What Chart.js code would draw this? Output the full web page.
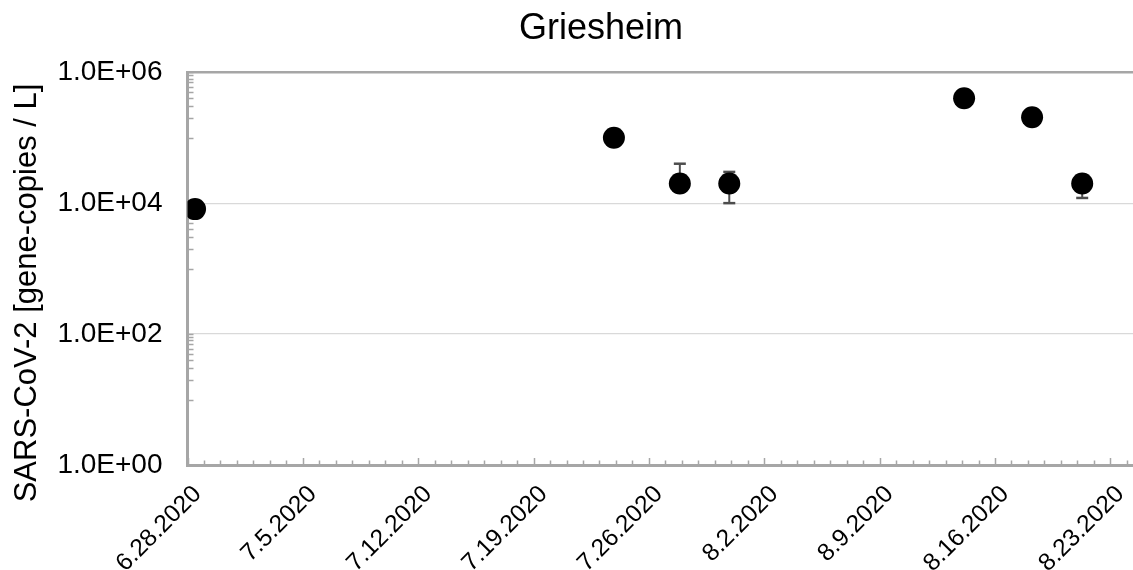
<!DOCTYPE html>
<html><head><meta charset="utf-8">
<script src="https://cdn.jsdelivr.net/npm/chart.js@4.4.1/dist/chart.umd.min.js"></script>
<style>html,body{margin:0;padding:0;overflow:hidden;background:#fff;width:1133px;height:570px}</style>
</head><body>
<canvas id="c" width="1212" height="570" style="width:1212px;height:570px;display:block"></canvas>
<script>
// ---- data ----
const sampleDates = ['2020-06-28T11:00','2020-07-23T21:00','2020-07-27T21:00','2020-07-30T21:00','2020-08-14T03:00','2020-08-18T06:00','2020-08-21T07:00'];
const copiesPerL  = [8100, 100000, 20000, 20000, 400000, 205000, 20000];
const errLow      = [null, null, null, 10000, null, null, 12000];
const errHigh     = [null, null, 40000, 30000, null, null, null];
const xTickDates  = ['2020-06-28','2020-07-05','2020-07-12','2020-07-19','2020-07-26','2020-08-02','2020-08-09','2020-08-16','2020-08-23'];
const xTickLabels = ['6.28.2020','7.5.2020','7.12.2020','7.19.2020','7.26.2020','8.2.2020','8.9.2020','8.16.2020','8.23.2020'];
const yTickValues = [1, 100, 10000, 1000000];
const yTickLabels = ['1.0E+00','1.0E+02','1.0E+04','1.0E+06'];
const axisStart = '2020-06-28';
const axisEnd   = '2020-08-28T12:00';
const chartTitle = 'Griesheim';
const yTitle = 'SARS-CoV-2 [gene-copies / L]';

const toDay = s => (Date.parse((s.length === 10 ? s + 'T00:00' : s) + 'Z') - Date.parse(axisStart + 'T00:00Z')) / 864e5;
const sampleDays = sampleDates.map(toDay);
const xTickDays = xTickDates.map(toDay);
const xMax = toDay(axisEnd);

const FONT = '"Liberation Sans", Arial, sans-serif';
const AXIS = '#a6a6a6';

const minorTicks = {
  id: 'minorTicks',
  beforeDatasetsDraw(chart) {
    const {ctx, scales: {x, y}, chartArea} = chart;
    ctx.save();
    ctx.strokeStyle = AXIS;
    ctx.lineWidth = 1.5;
    ctx.beginPath();
    for (let d = 0; d <= Math.floor(xMax); d++) {
      const px = Math.round(x.getPixelForValue(d)) + 0.5;
      const len = xTickDays.includes(d) ? 7 : 4.5;
      ctx.moveTo(px, chartArea.bottom);
      ctx.lineTo(px, chartArea.bottom - len);
    }
    const vals = [...yTickValues];
    for (const e of [1, 3, 5]) for (let k = 1; k <= 9; k++) vals.push(k * Math.pow(10, e));
    for (const v of vals) {
      const py = Math.round(y.getPixelForValue(v)) + 0.5;
      ctx.moveTo(chartArea.left, py);
      ctx.lineTo(chartArea.left + 6, py);
    }
    ctx.stroke();
    ctx.restore();
  }
};

const errorBars = {
  id: 'errorBars',
  beforeDatasetsDraw(chart) {
    const {ctx, scales: {x, y}} = chart;
    ctx.save();
    ctx.strokeStyle = '#4d4d4d';
    sampleDays.forEach((d, i) => {
      const px = x.getPixelForValue(d), py = y.getPixelForValue(copiesPerL[i]);
      [errLow[i], errHigh[i]].forEach(v => {
        if (v == null) return;
        const pe = y.getPixelForValue(v);
        ctx.lineWidth = 2;
        ctx.beginPath(); ctx.moveTo(px, py); ctx.lineTo(px, pe); ctx.stroke();
        ctx.lineWidth = 2.5;
        ctx.beginPath(); ctx.moveTo(px - 6, pe); ctx.lineTo(px + 6, pe); ctx.stroke();
      });
    });
    ctx.restore();
  }
};

const yAxisTitle = {
  id: 'yAxisTitle',
  afterDraw(chart) {
    const {ctx} = chart;
    ctx.save();
    ctx.translate(27, 293);
    ctx.rotate(-Math.PI / 2);
    ctx.font = '31px ' + FONT;
    ctx.fillStyle = '#000';
    ctx.textAlign = 'center';
    ctx.textBaseline = 'middle';
    ctx.fillText(yTitle, 0, 0);
    ctx.restore();
  }
};

new Chart(document.getElementById('c'), {
  type: 'scatter',
  data: {
    datasets: [{
      data: sampleDays.map((d, i) => ({x: d, y: copiesPerL[i]})),
      backgroundColor: '#000', borderColor: '#000', borderWidth: 0,
      pointRadius: 11, pointHoverRadius: 11
    }]
  },
  options: {
    responsive: false, animation: false, devicePixelRatio: 1,
    layout: {padding: {left: 0, right: 10, top: 0, bottom: 0}},
    plugins: {
      legend: {display: false}, tooltip: {enabled: false},
      title: {display: true, text: chartTitle, color: '#000',
        font: {size: 36, family: FONT, weight: 'normal'}, padding: {top: 7, bottom: 22}}
    },
    scales: {
      x: {
        type: 'linear', min: 0, max: xMax,
        afterBuildTicks: s => { s.ticks = xTickDays.map(v => ({value: v})); },
        afterFit: s => { s.height = 105; },
        ticks: {callback: (v, i) => xTickLabels[i], minRotation: 45, maxRotation: 45, autoSkip: false,
          color: '#000', font: {size: 24.5, family: FONT}, padding: 15, labelOffset: 10},
        grid: {display: false, drawTicks: false, z: -1},
        border: {display: true, color: AXIS, width: 3}
      },
      y: {
        type: 'logarithmic', min: 1, max: 1e6,
        afterBuildTicks: s => { s.ticks = yTickValues.map(v => ({value: v})); },
        afterFit: s => { s.width = 187.5; },
        ticks: {callback: (v) => yTickLabels[yTickValues.indexOf(v)], autoSkip: false,
          color: '#000', font: {size: 28, family: FONT}, padding: 25},
        grid: {z: -1, drawTicks: false,
          color: c => c.tick && c.tick.value === 1e6 ? AXIS : (c.tick && c.tick.value === 1 ? 'rgba(0,0,0,0)' : '#d9d9d9'),
          lineWidth: c => c.tick && c.tick.value === 1e6 ? 2.5 : 1.2},
        border: {display: true, color: AXIS, width: 3}
      }
    }
  },
  plugins: [minorTicks, errorBars, yAxisTitle]
});
</script>
</body></html>
